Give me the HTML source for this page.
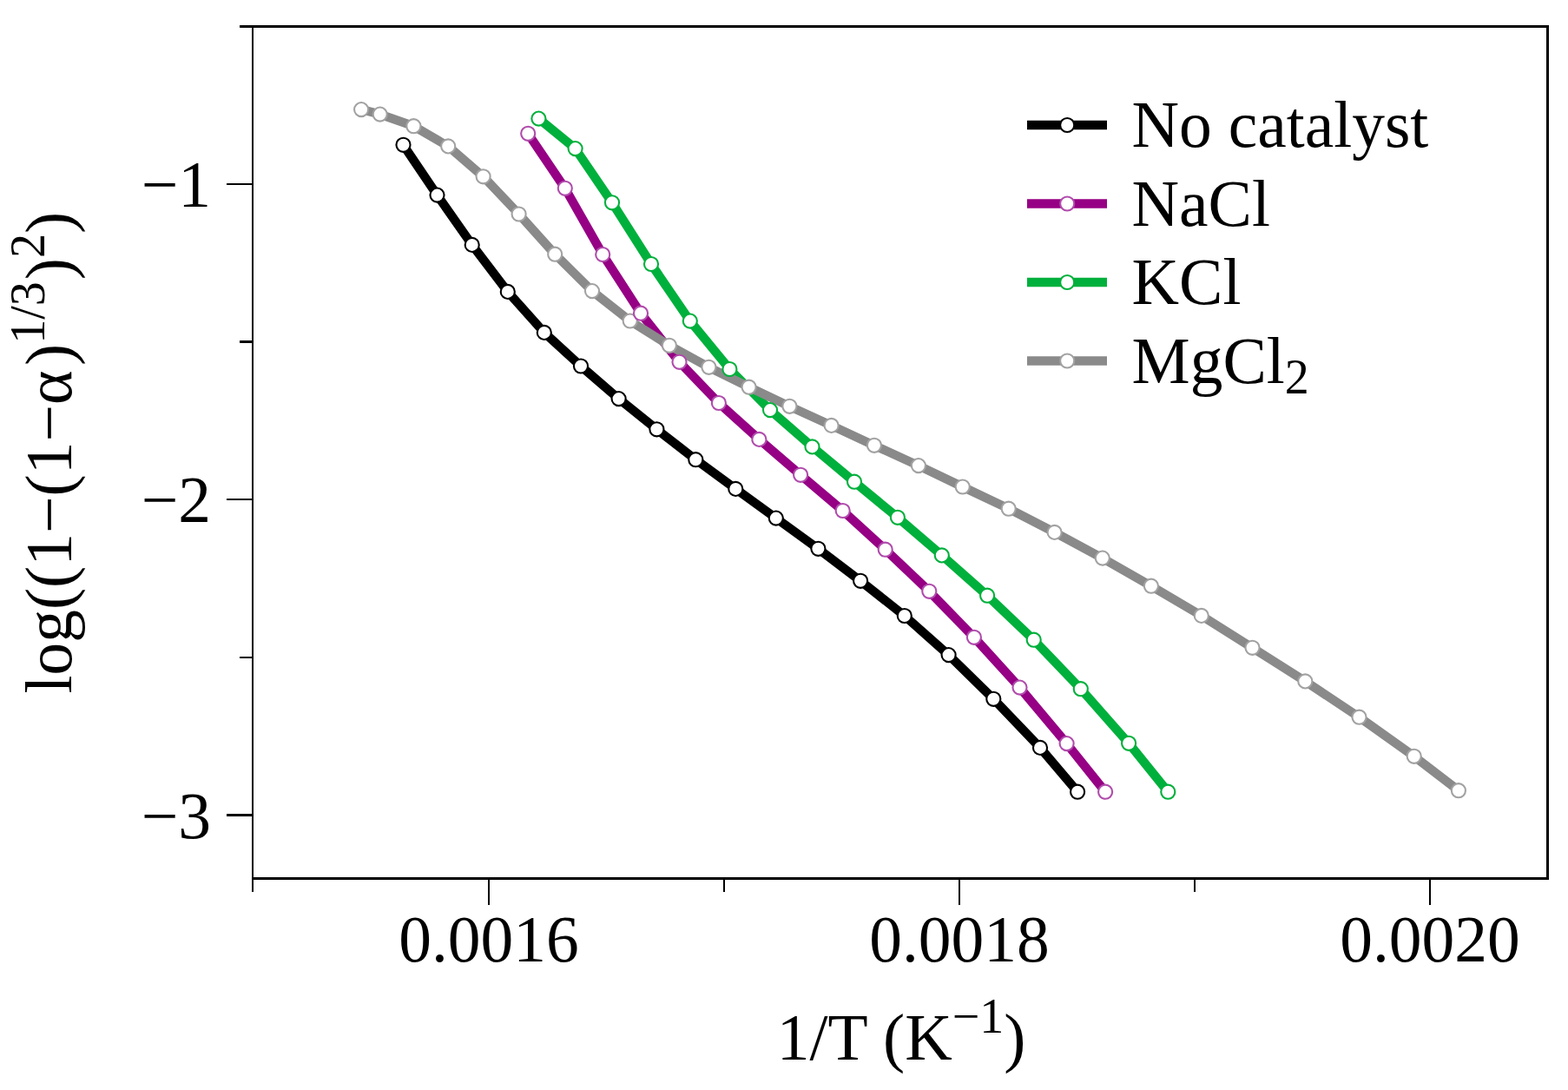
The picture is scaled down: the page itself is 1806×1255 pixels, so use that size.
<!DOCTYPE html>
<html><head><meta charset="utf-8"><title>plot</title>
<style>
html,body{margin:0;padding:0;background:#fff;}
svg{display:block;}
text{font-family:"Liberation Serif","Times New Roman",serif;font-size:75.5px;fill:#000;}
</style></head><body>
<svg width="1806" height="1255" viewBox="0 0 1806 1255">
<rect width="1806" height="1255" fill="#fff"/>
<polyline points="464.5,166.8 503.5,224.6 543.7,281.9 584.8,335.9 626.8,382.9 669.0,421.5 712.6,459.1 756.4,494.3 801.3,529.2 847.3,562.9 893.8,596.6 942.4,631.8 991.1,668.8 1041.8,709.0 1092.6,754.1 1144.3,804.8 1198.0,860.9 1241.1,911.7" fill="none" stroke="#000000" stroke-width="10.3" stroke-linejoin="round"/>
<polyline points="608.2,153.8 650.8,216.8 694.2,293.0 738.0,360.7 782.5,416.8 827.9,464.0 874.4,505.9 922.1,546.8 970.7,588.0 1019.7,632.7 1070.3,680.8 1121.9,733.8 1174.5,791.6 1228.6,856.1 1273.1,911.7" fill="none" stroke="#960084" stroke-width="10.3" stroke-linejoin="round"/>
<polyline points="620.4,136.6 662.6,171.1 705.0,233.3 750.0,304.0 794.8,369.6 840.4,425.0 887.0,472.1 935.5,514.4 984.0,554.7 1033.9,595.8 1084.8,639.4 1137.1,685.7 1190.7,736.7 1244.8,793.2 1300.1,855.8 1345.3,911.7" fill="none" stroke="#00b03c" stroke-width="10.3" stroke-linejoin="round"/>
<polyline points="416.1,126.1 437.7,131.6 476.4,145.2 516.2,168.4 556.6,203.3 597.6,246.5 639.2,292.7 682.0,335.1 725.7,369.5 770.9,397.8 816.4,422.8 862.6,445.7 909.4,467.8 957.6,489.9 1006.9,512.8 1057.9,536.1 1108.7,560.5 1161.7,585.7 1214.6,612.9 1269.8,642.6 1325.9,674.7 1383.8,708.9 1442.5,745.8 1503.3,784.4 1565.5,825.7 1628.7,870.8 1679.9,910.2" fill="none" stroke="#8a8a8a" stroke-width="10.3" stroke-linejoin="round"/>
<g fill="#fff" stroke="#a2a2a2" stroke-width="2.1"><circle cx="416.1" cy="126.1" r="8.05"/><circle cx="437.7" cy="131.6" r="8.05"/><circle cx="476.4" cy="145.2" r="8.05"/><circle cx="516.2" cy="168.4" r="8.05"/><circle cx="556.6" cy="203.3" r="8.05"/><circle cx="597.6" cy="246.5" r="8.05"/><circle cx="639.2" cy="292.7" r="8.05"/><circle cx="682.0" cy="335.1" r="8.05"/><circle cx="725.7" cy="369.5" r="8.05"/><circle cx="770.9" cy="397.8" r="8.05"/><circle cx="816.4" cy="422.8" r="8.05"/><circle cx="862.6" cy="445.7" r="8.05"/><circle cx="909.4" cy="467.8" r="8.05"/><circle cx="957.6" cy="489.9" r="8.05"/><circle cx="1006.9" cy="512.8" r="8.05"/><circle cx="1057.9" cy="536.1" r="8.05"/><circle cx="1108.7" cy="560.5" r="8.05"/><circle cx="1161.7" cy="585.7" r="8.05"/><circle cx="1214.6" cy="612.9" r="8.05"/><circle cx="1269.8" cy="642.6" r="8.05"/><circle cx="1325.9" cy="674.7" r="8.05"/><circle cx="1383.8" cy="708.9" r="8.05"/><circle cx="1442.5" cy="745.8" r="8.05"/><circle cx="1503.3" cy="784.4" r="8.05"/><circle cx="1565.5" cy="825.7" r="8.05"/><circle cx="1628.7" cy="870.8" r="8.05"/><circle cx="1679.9" cy="910.2" r="8.05"/></g>
<g fill="#fff" stroke="#000000" stroke-width="2.1"><circle cx="464.5" cy="166.8" r="8.05"/><circle cx="503.5" cy="224.6" r="8.05"/><circle cx="543.7" cy="281.9" r="8.05"/><circle cx="584.8" cy="335.9" r="8.05"/><circle cx="626.8" cy="382.9" r="8.05"/><circle cx="669.0" cy="421.5" r="8.05"/><circle cx="712.6" cy="459.1" r="8.05"/><circle cx="756.4" cy="494.3" r="8.05"/><circle cx="801.3" cy="529.2" r="8.05"/><circle cx="847.3" cy="562.9" r="8.05"/><circle cx="893.8" cy="596.6" r="8.05"/><circle cx="942.4" cy="631.8" r="8.05"/><circle cx="991.1" cy="668.8" r="8.05"/><circle cx="1041.8" cy="709.0" r="8.05"/><circle cx="1092.6" cy="754.1" r="8.05"/><circle cx="1144.3" cy="804.8" r="8.05"/><circle cx="1198.0" cy="860.9" r="8.05"/><circle cx="1241.1" cy="911.7" r="8.05"/></g>
<g fill="#fff" stroke="#b04cac" stroke-width="2.1"><circle cx="608.2" cy="153.8" r="8.05"/><circle cx="650.8" cy="216.8" r="8.05"/><circle cx="694.2" cy="293.0" r="8.05"/><circle cx="738.0" cy="360.7" r="8.05"/><circle cx="782.5" cy="416.8" r="8.05"/><circle cx="827.9" cy="464.0" r="8.05"/><circle cx="874.4" cy="505.9" r="8.05"/><circle cx="922.1" cy="546.8" r="8.05"/><circle cx="970.7" cy="588.0" r="8.05"/><circle cx="1019.7" cy="632.7" r="8.05"/><circle cx="1070.3" cy="680.8" r="8.05"/><circle cx="1121.9" cy="733.8" r="8.05"/><circle cx="1174.5" cy="791.6" r="8.05"/><circle cx="1228.6" cy="856.1" r="8.05"/><circle cx="1273.1" cy="911.7" r="8.05"/></g>
<g fill="#fff" stroke="#00b03c" stroke-width="2.1"><circle cx="620.4" cy="136.6" r="8.05"/><circle cx="662.6" cy="171.1" r="8.05"/><circle cx="705.0" cy="233.3" r="8.05"/><circle cx="750.0" cy="304.0" r="8.05"/><circle cx="794.8" cy="369.6" r="8.05"/><circle cx="840.4" cy="425.0" r="8.05"/><circle cx="887.0" cy="472.1" r="8.05"/><circle cx="935.5" cy="514.4" r="8.05"/><circle cx="984.0" cy="554.7" r="8.05"/><circle cx="1033.9" cy="595.8" r="8.05"/><circle cx="1084.8" cy="639.4" r="8.05"/><circle cx="1137.1" cy="685.7" r="8.05"/><circle cx="1190.7" cy="736.7" r="8.05"/><circle cx="1244.8" cy="793.2" r="8.05"/><circle cx="1300.1" cy="855.8" r="8.05"/><circle cx="1345.3" cy="911.7" r="8.05"/></g>
<g stroke="#000">
<line x1="563.0" y1="1011.5" x2="563.0" y2="1042" stroke-width="2"/>
<line x1="1105.0" y1="1011.5" x2="1105.0" y2="1042" stroke-width="2"/>
<line x1="1647.0" y1="1011.5" x2="1647.0" y2="1042" stroke-width="2"/>
<line x1="834.0" y1="1011.5" x2="834.0" y2="1027" stroke-width="2"/>
<line x1="1376.0" y1="1011.5" x2="1376.0" y2="1027" stroke-width="2"/>
<line x1="261" y1="212.0" x2="291.0" y2="212.0" stroke-width="2"/>
<line x1="261" y1="575.0" x2="291.0" y2="575.0" stroke-width="2"/>
<line x1="261" y1="938.5" x2="291.0" y2="938.5" stroke-width="3"/>
<line x1="276" y1="393.5" x2="291.0" y2="393.5" stroke-width="3"/>
<line x1="276" y1="757.0" x2="291.0" y2="757.0" stroke-width="2"/>
</g>
<g fill="none" stroke="#000">
<line x1="276" y1="30.5" x2="1784" y2="30.5" stroke-width="3"/>
<line x1="290" y1="1011.5" x2="1784" y2="1011.5" stroke-width="3"/>
<line x1="291.0" y1="32" x2="291.0" y2="1027" stroke-width="2"/>
<line x1="1782.5" y1="29" x2="1782.5" y2="1013" stroke-width="3"/>
</g>
<text x="563.0" y="1107" text-anchor="middle">0.0016</text>
<text x="1105.0" y="1107" text-anchor="middle">0.0018</text>
<text x="1647.0" y="1107" text-anchor="middle">0.0020</text>
<text x="243" y="238.0" text-anchor="end">−1</text>
<text x="243" y="601.0" text-anchor="end">−2</text>
<text x="243" y="964.5" text-anchor="end">−3</text>
<text x="894.7" y="1219.7">1/T (K<tspan font-size="56" dy="-31">−1</tspan><tspan dy="31">)</tspan></text>
<text transform="translate(81.9,796) rotate(-90)" x="-2.5" y="0">log((1−(1−α<tspan dx="5.5">)</tspan><tspan font-size="56" dy="-30.5">1/3</tspan><tspan dy="30.5" dx="2">)</tspan><tspan font-size="56" dy="-30.5">2</tspan><tspan dy="30.5">)</tspan></text>
<line x1="1183" y1="144.0" x2="1275" y2="144.0" stroke="#000000" stroke-width="10.6"/>
<circle cx="1229.2" cy="144.0" r="8.05" fill="#fff" stroke="#000000" stroke-width="2.1"/>
<text x="1303.5" y="169.2">No catalyst</text>
<line x1="1183" y1="234.5" x2="1275" y2="234.5" stroke="#960084" stroke-width="10.6"/>
<circle cx="1229.2" cy="234.5" r="8.05" fill="#fff" stroke="#b04cac" stroke-width="2.1"/>
<text x="1303.5" y="260.0">NaCl</text>
<line x1="1183" y1="325.0" x2="1275" y2="325.0" stroke="#00b03c" stroke-width="10.6"/>
<circle cx="1229.2" cy="325.0" r="8.05" fill="#fff" stroke="#00b03c" stroke-width="2.1"/>
<text x="1303.5" y="350.2">KCl</text>
<line x1="1183" y1="415.5" x2="1275" y2="415.5" stroke="#8a8a8a" stroke-width="10.6"/>
<circle cx="1229.2" cy="415.5" r="8.05" fill="#fff" stroke="#a2a2a2" stroke-width="2.1"/>
<text x="1303.5" y="441.0">MgCl<tspan font-size="56" dy="11.6">2</tspan></text>
</svg>
</body></html>
